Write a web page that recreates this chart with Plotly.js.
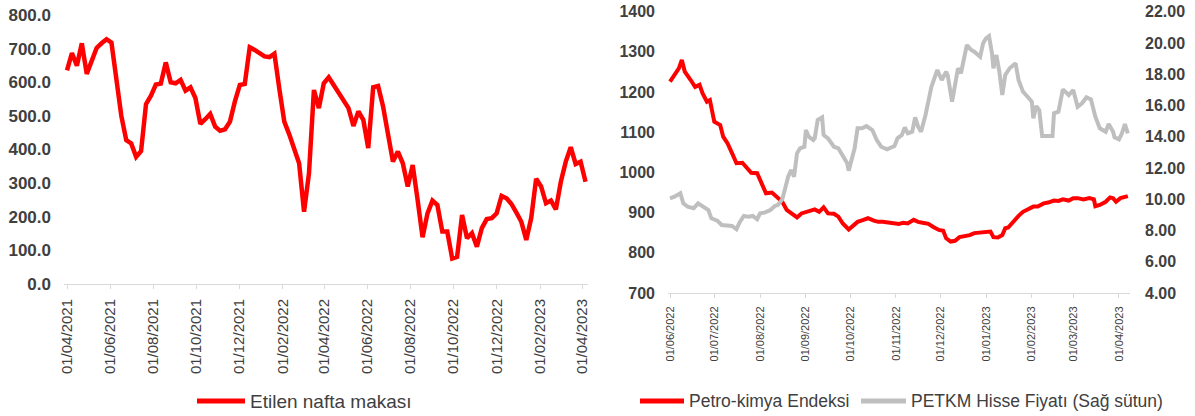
<!DOCTYPE html>
<html><head><meta charset="utf-8">
<script src="https://cdn.plot.ly/plotly-3.0.1.min.js"></script>
<style>html,body{margin:0;padding:0;background:#fff}#chart{width:1195px;height:416px}</style>
</head><body><div id="chart"></div>
<script>
// ---- Left chart: Etilen nafta makası (weekly) ----
const spreadStart = '2021-04-01';
const spreadValues = [
 635,687,649,716,625,668,702,716,728,718,
 597,500,428,418,378,395,535,560,593,596,
 659,600,597,607,575,585,553,476,490,506,
 468,456,460,483,543,592,595,704,696,687,
 677,675,685,580,483,445,400,359,215,329,
 577,523,597,615,592,567,545,523,470,513,
 488,404,585,589,528,448,364,394,359,290,
 354,250,139,210,248,235,156,156,76,81,
 205,136,151,111,166,193,196,210,262,255,
 238,212,185,131,196,313,290,240,248,222,
 304,364,407,357,364,304
];
const leftTicks = ['2021-04-01','2021-06-01','2021-08-01','2021-10-01','2021-12-01','2022-02-01',
  '2022-04-01','2022-06-01','2022-08-01','2022-10-01','2022-12-01','2023-02-01','2023-04-01'];

// ---- Right chart: Petro-kimya Endeksi & PETKM ----
const petroDates = [
 '2022-06-01','2022-06-04','2022-06-07','2022-06-09','2022-06-11','2022-06-15','2022-06-18','2022-06-21','2022-06-23','2022-06-26',
 '2022-06-28','2022-07-01','2022-07-05','2022-07-07','2022-07-10','2022-07-13','2022-07-16','2022-07-20','2022-07-23','2022-07-26',
 '2022-07-30','2022-08-02','2022-08-05','2022-08-09','2022-08-12','2022-08-16','2022-08-19','2022-08-22','2022-08-26','2022-08-29',
 '2022-09-02','2022-09-05','2022-09-07','2022-09-10','2022-09-13','2022-09-16','2022-09-20','2022-09-23','2022-09-26','2022-09-30',
 '2022-10-03','2022-10-06','2022-10-10','2022-10-13','2022-10-17','2022-10-20','2022-10-23','2022-10-27','2022-10-30','2022-11-03',
 '2022-11-06','2022-11-09','2022-11-13','2022-11-16','2022-11-19','2022-11-23','2022-11-26','2022-11-30','2022-12-03','2022-12-05',
 '2022-12-08','2022-12-11','2022-12-14','2022-12-18','2022-12-21','2022-12-24','2022-12-28','2022-12-31','2023-01-04','2023-01-06',
 '2023-01-09','2023-01-12','2023-01-14','2023-01-16','2023-01-19','2023-01-23','2023-01-26','2023-01-30','2023-02-02','2023-02-05',
 '2023-02-09','2023-02-12','2023-02-16','2023-02-19','2023-02-22','2023-02-26','2023-03-01','2023-03-04','2023-03-08','2023-03-12',
 '2023-03-15','2023-03-16','2023-03-19','2023-03-23','2023-03-26','2023-03-28','2023-03-30','2023-04-02','2023-04-05','2023-04-07'
];
const petroValues = [
 1226,1242,1259,1280,1251,1230,1213,1218,1197,1176,
 1180,1126,1118,1089,1072,1048,1023,1024,1010,999,
 998,973,948,950,940,927,907,898,888,898,
 902,907,908,902,913,898,897,890,873,858,
 867,877,882,886,880,877,877,875,873,872,
 875,873,882,877,875,872,865,857,855,836,
 828,830,839,842,844,849,850,851,853,839,
 838,844,861,863,877,892,902,908,915,915,
 923,925,930,929,933,930,936,936,933,936,
 933,916,919,927,938,936,927,936,940,941
];
const petkmDates = [
 '2022-06-01','2022-06-04','2022-06-08','2022-06-10','2022-06-13','2022-06-17','2022-06-20','2022-06-24','2022-06-27','2022-06-29',
 '2022-07-03','2022-07-06','2022-07-09','2022-07-13','2022-07-16','2022-07-18','2022-07-21','2022-07-24','2022-07-27','2022-07-30',
 '2022-08-01','2022-08-04','2022-08-08','2022-08-11','2022-08-13','2022-08-16','2022-08-18','2022-08-20','2022-08-22','2022-08-24',
 '2022-08-26','2022-08-28','2022-08-31','2022-09-01','2022-09-03','2022-09-06','2022-09-07','2022-09-09','2022-09-12','2022-09-13',
 '2022-09-16','2022-09-20','2022-09-23','2022-09-26','2022-09-29','2022-09-30','2022-10-02','2022-10-04','2022-10-06','2022-10-09',
 '2022-10-12','2022-10-16','2022-10-19','2022-10-22','2022-10-26','2022-10-29','2022-10-31','2022-11-02','2022-11-05','2022-11-07',
 '2022-11-09','2022-11-12','2022-11-14','2022-11-16','2022-11-18','2022-11-21','2022-11-23','2022-11-25','2022-11-29','2022-12-02',
 '2022-12-05','2022-12-06','2022-12-09','2022-12-11','2022-12-13','2022-12-15','2022-12-17','2022-12-19','2022-12-22','2022-12-24',
 '2022-12-28','2022-12-30','2023-01-01','2023-01-03','2023-01-05','2023-01-06','2023-01-08','2023-01-10','2023-01-12','2023-01-14',
 '2023-01-17','2023-01-21','2023-01-23','2023-01-26','2023-01-30','2023-02-01','2023-02-02','2023-02-04','2023-02-06','2023-02-08',
 '2023-02-11','2023-02-15','2023-02-16','2023-02-19','2023-02-22','2023-02-26','2023-03-01','2023-03-04','2023-03-07','2023-03-10',
 '2023-03-13','2023-03-16','2023-03-19','2023-03-23','2023-03-25','2023-03-28','2023-03-29','2023-04-01','2023-04-03','2023-04-05',
 '2023-04-07'
];
const petkmValues = [
 10.06,10.16,10.38,9.74,9.52,9.42,9.74,9.52,9.31,8.78,
 8.63,8.35,8.35,8.29,8.08,8.50,8.93,8.88,8.93,8.72,
 9.10,9.14,9.31,9.57,9.63,9.99,10.70,11.44,11.87,11.44,
 12.94,13.26,13.36,14.43,14.00,13.79,13.90,15.07,15.24,14.11,
 13.90,13.36,13.26,12.83,12.30,11.83,12.51,13.26,14.54,14.54,
 14.68,14.43,13.79,13.36,13.19,13.36,13.40,13.90,14.11,14.60,
 14.22,14.32,15.24,14.64,14.32,15.39,16.24,17.20,18.27,17.63,
 18.16,17.95,16.24,17.42,18.38,18.06,19.12,19.87,19.55,19.44,
 19.12,19.98,20.30,20.44,19.34,18.38,19.23,18.16,16.67,17.95,
 18.38,18.70,17.63,16.88,16.46,16.24,15.18,15.96,15.71,14.04,
 14.04,14.04,15.50,15.60,17.03,16.67,16.99,15.92,16.14,16.52,
 16.39,15.28,14.54,14.32,14.81,14.32,13.96,13.83,14.22,14.81,
 14.22
];
const rightTicks = ['2022-06-01','2022-07-01','2022-08-01','2022-09-01','2022-10-01','2022-11-01',
  '2022-12-01','2023-01-01','2023-02-01','2023-03-01','2023-04-01'];

// weekly sampling dates of the left series
const spreadDates = spreadValues.map((_, i) => {
  const d = new Date(spreadStart + 'T00:00:00Z');
  d.setUTCDate(d.getUTCDate() + 7 * i);
  return d.toISOString().slice(0, 10);
});

const W = 1195, H = 416;
const px = v => v / W, py = v => 1 - v / H;
const RED = '#FF0000', GRAY = '#BFBFBF', TXT = '#404040';
const FONT = 'Liberation Sans, Arial, sans-serif';

const traces = [
  {x: spreadDates, y: spreadValues, type: 'scatter', mode: 'lines', xaxis: 'x', yaxis: 'y',
   line: {color: RED, width: 4.5}, name: 'Etilen nafta makası'},
  {x: petkmDates, y: petkmValues, type: 'scatter', mode: 'lines', xaxis: 'x2', yaxis: 'y3',
   line: {color: GRAY, width: 4}, name: 'PETKM Hisse Fiyatı (Sağ sütun)'},
  {x: petroDates, y: petroValues, type: 'scatter', mode: 'lines', xaxis: 'x2', yaxis: 'y2',
   line: {color: RED, width: 4}, name: 'Petro-kimya Endeksi'}
];

const xCommon = {type: 'date', tickformat: '%d/%m/%Y', tickangle: -90, showgrid: false, zeroline: false,
  showline: true, linecolor: '#D9D9D9', linewidth: 1, ticks: 'outside', ticklen: 4, tickcolor: '#D9D9D9',
  tickmode: 'array', fixedrange: true};
const yCommon = {showgrid: false, zeroline: false, showline: false, ticks: '', fixedrange: true,
  tickfont: {family: FONT, size: 16, color: TXT, weight: 'bold'}};

const layout = {
  width: W, height: H, margin: {l: 0, r: 0, t: 0, b: 0},
  paper_bgcolor: '#fff', plot_bgcolor: '#fff', showlegend: false,
  font: {family: FONT, color: TXT},
  xaxis: Object.assign({}, xCommon, {domain: [px(64), px(588)], anchor: 'y',
    range: ['2021-03-27 18:00', '2023-04-09 12:00'], tickvals: leftTicks,
    ticklabelstandoff: 4, tickfont: {family: FONT, size: 15, color: TXT}}),
  yaxis: Object.assign({}, yCommon, {domain: [py(284), py(15)], anchor: 'x', range: [0, 800],
    tickvals: [0,100,200,300,400,500,600,700,800], tickformat: '.1f', ticklabelstandoff: 12,
    tickfont: {family: FONT, size: 17, color: TXT, weight: 'bold'}}),
  xaxis2: Object.assign({}, xCommon, {domain: [px(668), px(1130)], anchor: 'y2',
    range: ['2022-05-30 15:30', '2023-04-08 11:00'], tickvals: rightTicks,
    ticklabelstandoff: 4, tickfont: {family: FONT, size: 11, color: TXT}}),
  yaxis2: Object.assign({}, yCommon, {domain: [py(293), py(11.7)], anchor: 'x2', range: [700, 1400],
    tickvals: [700,800,900,1000,1100,1200,1300,1400], tickformat: 'd', ticklabelstandoff: 12}),
  yaxis3: Object.assign({}, yCommon, {overlaying: 'y2', side: 'right', anchor: 'x2', range: [4, 22],
    tickvals: [4,6,8,10,12,14,16,18,20,22], tickformat: '.2f', ticklabelstandoff: 14}),
  shapes: [
    {type: 'line', xref: 'paper', yref: 'paper', x0: px(197), x1: px(245), y0: py(401), y1: py(401),
     line: {color: RED, width: 5}},
    {type: 'line', xref: 'paper', yref: 'paper', x0: px(640), x1: px(684), y0: py(401), y1: py(401),
     line: {color: RED, width: 5}},
    {type: 'line', xref: 'paper', yref: 'paper', x0: px(861), x1: px(906), y0: py(401), y1: py(401),
     line: {color: GRAY, width: 5}}
  ],
  annotations: [
    {xref: 'paper', yref: 'paper', x: px(248), y: py(401), xanchor: 'left', yanchor: 'middle', showarrow: false,
     text: 'Etilen nafta makası', font: {family: FONT, size: 19, color: TXT}},
    {xref: 'paper', yref: 'paper', x: px(687), y: py(401), xanchor: 'left', yanchor: 'middle', showarrow: false,
     text: 'Petro-kimya Endeksi', font: {family: FONT, size: 17.5, color: TXT}},
    {xref: 'paper', yref: 'paper', x: px(909), y: py(401), xanchor: 'left', yanchor: 'middle', showarrow: false,
     text: 'PETKM Hisse Fiyatı (Sağ sütun)', font: {family: FONT, size: 17.5, color: TXT}}
  ]
};

Plotly.newPlot('chart', traces, layout, {displayModeBar: false, staticPlot: true});
</script></body></html>
